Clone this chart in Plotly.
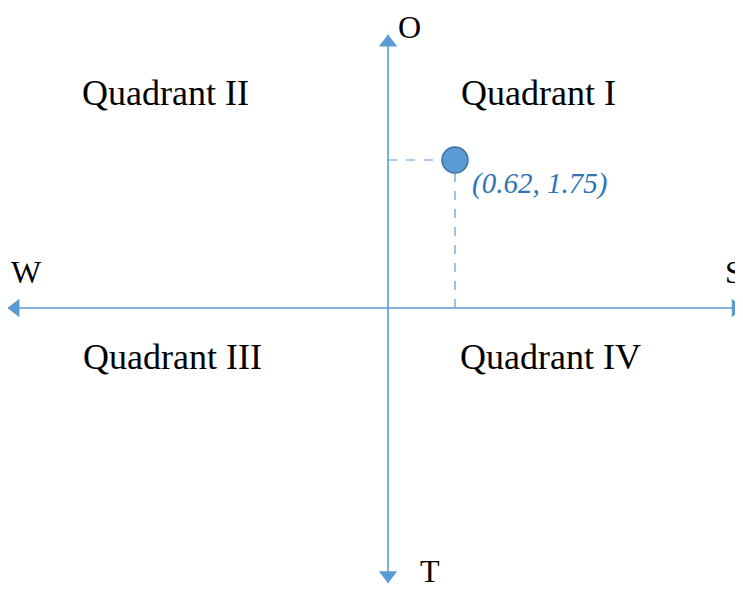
import plotly.graph_objects as go

# 点的坐标
pt_x = [0.62]
pt_y = [1.75]
pt_label = ["(0.62, 1.75)"]

# 坐标轴端点
axis_x = [-3.52, 3.29]
axis_y = [-3.25, 3.23]

# 象限标签
quad_names = ["Quadrant I", "Quadrant II", "Quadrant III", "Quadrant IV"]
quad_x = [1.39, -2.06, -2.0, 1.5]
quad_y = [2.54, 2.54, -0.58, -0.58]

# 方向标签
dir_names = ["W", "S", "O", "T"]
dir_x = [-3.35, 3.2, 0.2, 0.39]
dir_y = [0.43, 0.43, 3.32, -3.11]

blue = "#5B9BD5"
serif = "Liberation Serif"

fig = go.Figure()

# 水平轴和竖直轴
fig.add_trace(go.Scatter(x=axis_x, y=[0, 0], mode="lines",
                         line=dict(color=blue, width=1.6), hoverinfo="skip"))
fig.add_trace(go.Scatter(x=[0, 0], y=axis_y, mode="lines",
                         line=dict(color=blue, width=1.6), hoverinfo="skip"))

# 箭头
ax_off, ay_off = 0.07, 0.09
fig.add_trace(go.Scatter(
    x=[axis_x[0] + ax_off, axis_x[1] - ax_off, 0, 0],
    y=[0, 0, axis_y[1] - ay_off, axis_y[0] + ay_off],
    mode="markers", cliponaxis=False,
    marker=dict(symbol=["triangle-left", "triangle-right", "triangle-up", "triangle-down"],
                size=16, color=blue, line=dict(width=0)),
    hoverinfo="skip"))

# 虚线
fig.add_trace(go.Scatter(x=[0, pt_x[0]], y=[pt_y[0], pt_y[0]], mode="lines",
                         line=dict(color=blue, width=1.2, dash="dash"), hoverinfo="skip"))
fig.add_trace(go.Scatter(x=[pt_x[0], pt_x[0]], y=[0, pt_y[0]], mode="lines",
                         line=dict(color=blue, width=1.2, dash="dash"), hoverinfo="skip"))

# 点
fig.add_trace(go.Scatter(x=pt_x, y=pt_y, mode="markers",
                         marker=dict(size=26, color=blue, line=dict(color="#41719C", width=1.5)),
                         hoverinfo="skip"))

# 点的标签
fig.add_annotation(x=pt_x[0], y=pt_y[0], text="<i>" + pt_label[0] + "</i>",
                   showarrow=False, xanchor="left", yanchor="middle",
                   xshift=15, yshift=-24,
                   font=dict(family=serif, size=29, color="#2E75B6"))

for name, x, y in zip(quad_names, quad_x, quad_y):
    fig.add_annotation(x=x, y=y, text=name, showarrow=False,
                       font=dict(family=serif, size=36, color="black"))

for name, x, y in zip(dir_names, dir_x, dir_y):
    fig.add_annotation(x=x, y=y, text=name, showarrow=False,
                       font=dict(family=serif, size=32, color="black"))

# 页面有 8px 的边距，所以图宽高各减 8
fig.update_layout(
    width=735, height=583,
    margin=dict(l=0, r=0, t=0, b=0),
    paper_bgcolor="white", plot_bgcolor="white",
    showlegend=False,
    xaxis=dict(range=[-3.519, 3.287], visible=False, fixedrange=True),
    yaxis=dict(range=[-3.346, 3.547], visible=False, fixedrange=True),
)

fig.write_html("out.html")
